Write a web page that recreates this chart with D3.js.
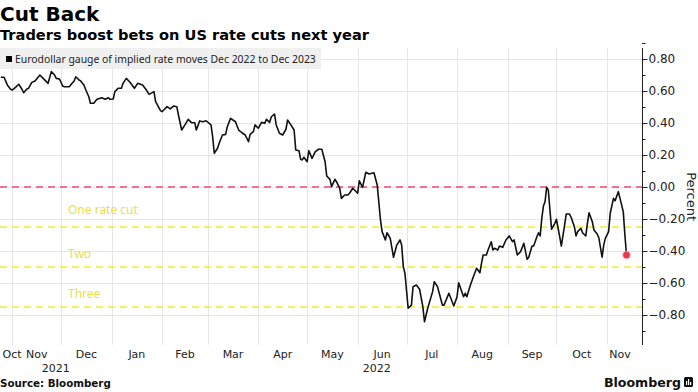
<!DOCTYPE html>
<html>
<head>
<meta charset="utf-8">
<script src="https://cdn.jsdelivr.net/npm/d3@7"></script>
<style>
  html, body { margin: 0; padding: 0; background: #fff; }
  svg { display: block; }
</style>
</head>
<body>
<svg id="chart" width="698" height="392"></svg>
<script>
const title = "Cut Back";
const subtitle = "Traders boost bets on US rate cuts next year";
const legendLabel = "Eurodollar gauge of implied rate moves Dec 2022 to Dec 2023";
const yTicks = [0.8, 0.6, 0.4, 0.2, 0, -0.2, -0.4, -0.6, -0.8];
const cutLevels = [-0.25, -0.5, -0.75];
const cutLabels = ["One rate cut", "Two", "Three"];
const monthNames = ["Oct","Nov","Dec","Jan","Feb","Mar","Apr","May","Jun","Jul","Aug","Sep","Oct","Nov"];
const yearLabels = ["2021", "2022"];

const dates = [
"2021-10-25","2021-10-27","2021-10-29","2021-10-31","2021-11-01","2021-11-03","2021-11-05","2021-11-07","2021-11-08","2021-11-10",
"2021-11-11","2021-11-13","2021-11-15","2021-11-18","2021-11-20","2021-11-23","2021-11-25","2021-11-27","2021-11-28","2021-11-30",
"2021-12-02","2021-12-03","2021-12-06","2021-12-08","2021-12-09","2021-12-10","2021-12-12","2021-12-13","2021-12-15","2021-12-16",
"2021-12-18","2021-12-19","2021-12-21","2021-12-23","2021-12-26","2021-12-28","2021-12-30","2021-12-31","2022-01-02","2022-01-03",
"2022-01-05","2022-01-07","2022-01-08","2022-01-10","2022-01-12","2022-01-15","2022-01-17","2022-01-20","2022-01-22","2022-01-24",
"2022-01-27","2022-01-28","2022-01-31","2022-02-01","2022-02-02","2022-02-04","2022-02-06","2022-02-08","2022-02-10","2022-02-11",
"2022-02-13","2022-02-15","2022-02-17","2022-02-19","2022-02-21","2022-02-22","2022-02-24","2022-02-26","2022-02-28","2022-03-03",
"2022-03-04","2022-03-05","2022-03-07","2022-03-08","2022-03-10","2022-03-12","2022-03-13","2022-03-15","2022-03-18","2022-03-20",
"2022-03-22","2022-03-24","2022-03-26","2022-03-27","2022-03-29","2022-03-30","2022-04-01","2022-04-03","2022-04-05","2022-04-06",
"2022-04-08","2022-04-09","2022-04-11","2022-04-12","2022-04-14","2022-04-16","2022-04-18","2022-04-19","2022-04-21","2022-04-23",
"2022-04-24","2022-04-26","2022-04-27","2022-04-28","2022-04-29","2022-05-01","2022-05-02","2022-05-04","2022-05-06","2022-05-08",
"2022-05-10","2022-05-12","2022-05-13","2022-05-15","2022-05-16","2022-05-18","2022-05-19","2022-05-21","2022-05-22","2022-05-24",
"2022-05-26","2022-05-27","2022-05-29","2022-06-01","2022-06-02","2022-06-04","2022-06-06","2022-06-08","2022-06-11","2022-06-13",
"2022-06-15","2022-06-16","2022-06-18","2022-06-19","2022-06-21","2022-06-23","2022-06-25","2022-06-27","2022-06-28","2022-06-29",
"2022-06-30","2022-07-02","2022-07-04","2022-07-05","2022-07-07","2022-07-09","2022-07-11","2022-07-12","2022-07-14","2022-07-17",
"2022-07-18","2022-07-20","2022-07-23","2022-07-24","2022-07-27","2022-07-30","2022-08-01","2022-08-02","2022-08-05","2022-08-06",
"2022-08-07","2022-08-09","2022-08-11","2022-08-13","2022-08-15","2022-08-16","2022-08-17","2022-08-19","2022-08-20","2022-08-22",
"2022-08-23","2022-08-24","2022-08-26","2022-08-27","2022-08-29","2022-08-31","2022-09-02","2022-09-04","2022-09-05","2022-09-07",
"2022-09-09","2022-09-11","2022-09-13","2022-09-14","2022-09-16","2022-09-17","2022-09-19","2022-09-20","2022-09-21","2022-09-22",
"2022-09-23","2022-09-24","2022-09-25","2022-09-26","2022-09-27","2022-09-28","2022-09-30","2022-10-01","2022-10-03","2022-10-04",
"2022-10-06","2022-10-07","2022-10-09","2022-10-10","2022-10-12","2022-10-13","2022-10-14","2022-10-16","2022-10-17","2022-10-19",
"2022-10-20","2022-10-21","2022-10-23","2022-10-24","2022-10-26","2022-10-27","2022-10-29","2022-10-30","2022-10-31","2022-11-02",
"2022-11-03","2022-11-05","2022-11-06","2022-11-08","2022-11-09","2022-11-11","2022-11-12","2022-11-13"
];
const values = [
0.686,0.686,0.638,0.611,0.606,0.623,0.642,0.611,0.589,0.613,
0.617,0.654,0.663,0.700,0.679,0.648,0.721,0.700,0.679,0.675,
0.631,0.627,0.627,0.652,0.663,0.689,0.669,0.663,0.638,0.611,
0.564,0.523,0.523,0.548,0.558,0.548,0.558,0.548,0.550,0.596,
0.617,0.617,0.648,0.679,0.658,0.617,0.648,0.638,0.611,0.579,
0.596,0.533,0.477,0.471,0.481,0.502,0.488,0.506,0.502,0.450,
0.356,0.388,0.423,0.402,0.402,0.356,0.413,0.408,0.414,0.388,
0.314,0.211,0.242,0.273,0.325,0.329,0.377,0.429,0.408,0.356,
0.339,0.325,0.283,0.329,0.346,0.388,0.367,0.404,0.398,0.423,
0.404,0.439,0.456,0.388,0.336,0.325,0.361,0.419,0.388,0.356,
0.231,0.227,0.173,0.169,0.186,0.158,0.227,0.179,0.221,0.236,
0.236,0.158,0.069,0.048,0.002,0.048,0.033,-0.008,-0.071,-0.050,
-0.050,-0.039,-0.008,-0.039,0.039,-0.002,0.092,0.081,0.089,0.013,
-0.206,-0.279,-0.331,-0.286,-0.321,-0.439,-0.363,-0.331,-0.363,-0.498,
-0.539,-0.758,-0.738,-0.623,-0.613,-0.639,-0.748,-0.842,-0.758,-0.654,
-0.592,-0.623,-0.738,-0.738,-0.664,-0.744,-0.686,-0.598,-0.686,-0.664,
-0.686,-0.619,-0.561,-0.508,-0.536,-0.477,-0.425,-0.425,-0.394,-0.342,
-0.394,-0.383,-0.394,-0.369,-0.377,-0.331,-0.306,-0.342,-0.331,-0.425,
-0.404,-0.352,-0.452,-0.439,-0.369,-0.369,-0.311,-0.286,-0.306,-0.196,
-0.119,-0.092,-0.002,-0.019,-0.144,-0.264,-0.227,-0.202,-0.311,-0.369,
-0.238,-0.169,-0.169,-0.189,-0.248,-0.306,-0.279,-0.258,-0.286,-0.306,
-0.227,-0.161,-0.217,-0.269,-0.294,-0.317,-0.439,-0.363,-0.321,-0.279,
-0.164,-0.071,-0.086,-0.029,-0.071,-0.154,-0.300,-0.425
];

const parse = d3.utcParse("%Y-%m-%d");
const data = dates.map((d, i) => ({ date: parse(d), value: values[i] }));

const svg = d3.select("#chart");
const plotLeft = 0, plotRight = 642, plotTop = 48, plotBottom = 345;

const x = d3.scaleUtc()
  .domain([new Date(Date.UTC(2021, 9, 24, 12)), new Date(Date.UTC(2022, 10, 22, 12))])
  .range([plotLeft, plotRight]);
const y = d3.scaleLinear().domain([-0.8, 0.8]).range([315, 59]);

const sansFont = "'DejaVu Sans', sans-serif";
const bodyFont = "'Noto Sans', 'DejaVu Sans', sans-serif";

// Title & subtitle
svg.append("text").attr("x", 0).attr("y", 21)
  .attr("font-family", sansFont).attr("font-weight", "bold").attr("font-size", 20)
  .attr("fill", "#000").text(title);
svg.append("text").attr("x", 0).attr("y", 39.5)
  .attr("font-family", sansFont).attr("font-weight", "bold").attr("font-size", 14.6)
  .attr("fill", "#000").text(subtitle);

// Gridlines
const months = d3.utcMonth.range(new Date(Date.UTC(2021, 10, 1)), new Date(Date.UTC(2022, 10, 2)));
svg.append("g").selectAll("line").data(months).join("line")
  .attr("x1", d => Math.round(x(d)) + 0.5).attr("x2", d => Math.round(x(d)) + 0.5)
  .attr("y1", plotTop).attr("y2", plotBottom)
  .attr("stroke", "#e6e6e6").attr("stroke-width", 1);
svg.append("g").selectAll("line").data(yTicks).join("line")
  .attr("x1", plotLeft).attr("x2", plotRight)
  .attr("y1", d => Math.round(y(d)) + 0.5).attr("y2", d => Math.round(y(d)) + 0.5)
  .attr("stroke", "#e6e6e6").attr("stroke-width", 1);

// Legend box
const legend = svg.append("g");
legend.append("rect").attr("x", 0).attr("y", 48).attr("width", 321).attr("height", 21)
  .attr("fill", "#f0f0f0");
legend.append("rect").attr("x", 6).attr("y", 56).attr("width", 6).attr("height", 6).attr("fill", "#000");
legend.append("text").attr("x", 15).attr("y", 62.5)
  .attr("font-family", bodyFont).attr("font-size", 10.4).attr("fill", "#222")
  .text(legendLabel);

// Reference lines
svg.append("line").attr("x1", plotLeft).attr("x2", plotRight)
  .attr("y1", y(0)).attr("y2", y(0))
  .attr("stroke", "#ec4b6c").attr("stroke-width", 1.5).attr("stroke-dasharray", "7,5");
svg.append("g").selectAll("line").data(cutLevels).join("line")
  .attr("x1", plotLeft).attr("x2", plotRight)
  .attr("y1", d => y(d)).attr("y2", d => y(d))
  .attr("stroke", "#f2ec3c").attr("stroke-width", 1.5).attr("stroke-dasharray", "7,5");
svg.append("g").selectAll("text").data(cutLevels).join("text")
  .attr("x", 68).attr("y", (d, i) => y(d) - (i === 0 ? 13 : 9))
  .attr("font-family", bodyFont).attr("font-size", 12).attr("fill", "#e9e04a")
  .text((d, i) => cutLabels[i]);

// Line
const line = d3.line().x(d => x(d.date)).y(d => y(d.value)).curve(d3.curveLinear);
svg.append("path").datum(data)
  .attr("d", line).attr("fill", "none").attr("stroke", "#111")
  .attr("stroke-width", 1.6).attr("stroke-linejoin", "round");

// End marker
const last = data[data.length - 1];
svg.append("circle").attr("cx", x(last.date)).attr("cy", y(last.value)).attr("r", 3.8)
  .attr("fill", "#e5384f").attr("stroke", "#f7b2bc").attr("stroke-width", 0.8);

// Right axis
const yAxis = d3.axisRight(y).tickValues(yTicks).tickSize(5).tickPadding(1)
  .tickFormat(d3.format(".2f"));
const ax = svg.append("g").attr("transform", `translate(${plotRight + 0.5},0)`).call(yAxis);
ax.select(".domain").remove();
ax.selectAll("text").attr("font-family", sansFont).attr("font-size", 12).attr("fill", "#222");
ax.selectAll("line").attr("stroke", "#222");
svg.append("line").attr("x1", plotRight + 0.5).attr("x2", plotRight + 0.5)
  .attr("y1", plotTop).attr("y2", plotBottom).attr("stroke", "#222");
const minorTicks = d3.range(-0.9, 0.91, 0.2);
svg.append("g").selectAll("line").data(minorTicks).join("line")
  .attr("x1", plotRight).attr("x2", plotRight + 3.5)
  .attr("y1", d => Math.round(y(d)) + 0.5).attr("y2", d => Math.round(y(d)) + 0.5)
  .attr("stroke", "#222");

svg.append("text")
  .attr("transform", `translate(687, ${y(-0.06)}) rotate(90)`)
  .attr("text-anchor", "middle")
  .attr("font-family", sansFont).attr("font-size", 13).attr("fill", "#222")
  .text("Percent");

// Month labels
const [d0, d1] = x.domain();
const monthStarts = d3.utcMonth.range(d3.utcMonth.floor(d0), d1);
svg.append("g").selectAll("text").data(monthStarts).join("text")
  .attr("x", d => {
    const a = Math.max(x(d), plotLeft);
    const b = Math.min(x(d3.utcMonth.offset(d, 1)), plotRight);
    return Math.min(Math.max((a + b) / 2, 12), 620);
  })
  .attr("y", 358)
  .attr("text-anchor", "middle")
  .attr("font-family", sansFont).attr("font-size", 11).attr("fill", "#222")
  .text((d, i) => monthNames[i]);

const years = [new Date(Date.UTC(2021, 0, 1)), new Date(Date.UTC(2022, 0, 1))];
svg.append("g").selectAll("text").data(years).join("text")
  .attr("x", d => {
    const a = Math.max(x(d), plotLeft);
    const b = Math.min(x(d3.utcYear.offset(d, 1)), plotRight);
    return (a + b) / 2;
  })
  .attr("y", 372)
  .attr("text-anchor", "middle")
  .attr("font-family", sansFont).attr("font-size", 11).attr("fill", "#222")
  .text((d, i) => yearLabels[i]);

// Footer
svg.append("text").attr("x", 0).attr("y", 387)
  .attr("font-family", sansFont).attr("font-weight", "bold").attr("font-size", 10.3)
  .attr("fill", "#111").text("Source: Bloomberg");
svg.append("text").attr("x", 681).attr("y", 387).attr("text-anchor", "end")
  .attr("font-family", sansFont).attr("font-weight", "bold").attr("font-size", 12.6)
  .attr("fill", "#111").text("Bloomberg");
const logo = svg.append("g").attr("transform", "translate(684,377)");
logo.append("rect").attr("width", 9).attr("height", 10).attr("rx", 1.5).attr("fill", "#111");
logo.append("rect").attr("x", 2).attr("y", 4).attr("width", 1.2).attr("height", 4).attr("fill", "#fff");
logo.append("rect").attr("x", 4).attr("y", 2).attr("width", 1.2).attr("height", 6).attr("fill", "#fff");
logo.append("rect").attr("x", 6).attr("y", 5).attr("width", 1.2).attr("height", 3).attr("fill", "#fff");
</script>
</body>
</html>
